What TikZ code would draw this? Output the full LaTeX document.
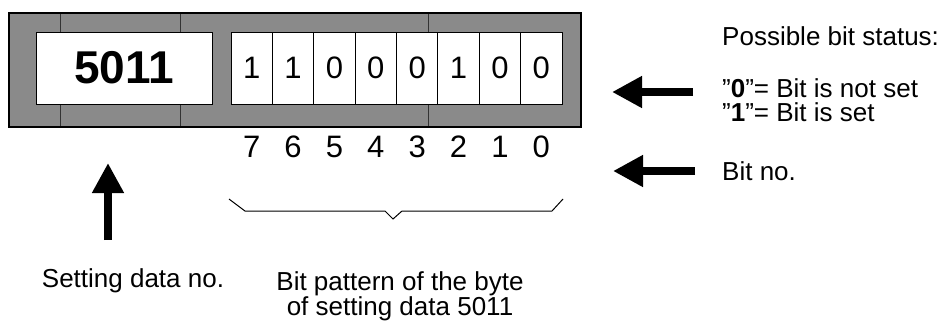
\documentclass[tikz,border=0pt]{standalone}
\usepackage{fontspec}
\setmainfont{Liberation Sans}
\usetikzlibrary{arrows.meta}
\tikzset{
  cellbox/.style={draw=black, line width=1pt, fill=white, inner sep=0pt, minimum height=72pt},
  bitcell/.style={cellbox, minimum width=41.375pt, font=\fontsize{31}{31}\selectfont},
  numbox/.style={cellbox, minimum width=176pt, font=\fontsize{46}{46}\selectfont\bfseries},
  bitnum/.style={inner sep=0pt, font=\fontsize{31}{31}\selectfont},
  label/.style={inner sep=0pt, font=\fontsize{26}{23.5}\selectfont},
  fatarrow/.style={line width=8pt, -{Triangle[length=30pt,width=30pt]}},
  seam/.style={line width=0.5pt, black!80},
}
\begin{document}
\begin{tikzpicture}[x=1pt,y=-1pt]
\useasboundingbox (0,0) rectangle (939,322);
% frame
\fill[black!46] (9,13) rectangle (581,127);
\draw[seam] (60,13) -- (60,32) (180,13) -- (180,32) (428,13) -- (428,32);
\draw[seam] (60,104) -- (60,127) (180,104) -- (180,127) (428,104) -- (428,127);
\draw[line width=1.3pt] (9,13) rectangle (581,127);
% number box
\node[numbox] (num) at (124,68) {5011};
% bit cells
\foreach \v [count=\i from 0] in {1,1,0,0,0,1,0,0} {
  \node[bitcell] (c\i) at (251.6875+\i*41.375,68) {\v};
}
% bit numbers
\foreach \n [count=\i from 0] in {7,6,5,4,3,2,1,0} {
  \node[bitnum] (b\i) at (251.6875+\i*41.375,147) {\n};
}
% brace
\coordinate (brL) at (229,199);
\coordinate (brR) at (563,199);
\coordinate (brT) at (393,219);
\draw[line width=1pt] (brL) -- (245,211) -- (385,211) -- (brT) -- (402,211) -- (552,211) -- (brR);
% up arrow
\coordinate (upS) at (108,240);
\coordinate (upE) at (108,163);
\draw[fatarrow] (upS) -- (upE);
% left arrows
\coordinate (a1S) at (693,92);
\coordinate (a1E) at (612,92);
\draw[fatarrow] (a1S) -- (a1E);
\coordinate (a2S) at (695,171);
\coordinate (a2E) at (613,171);
\draw[fatarrow] (a2S) -- (a2E);
% texts
\node[label, anchor=base west] (pbs) at (722,45) {Possible bit status:};
\node[label, anchor=west, align=left] (st) at (722,100) {”\textbf{0}”= Bit is not set\\”\textbf{1}”= Bit is set};
\node[label, anchor=base west] (bno) at (722,180) {Bit no.};
\node[label, anchor=base] (sdn) at (133,287) {Setting data no.};
\node[label, align=center] (bp) at (400,296) {Bit pattern of the byte\\of setting data 5011};
\end{tikzpicture}
\end{document}
